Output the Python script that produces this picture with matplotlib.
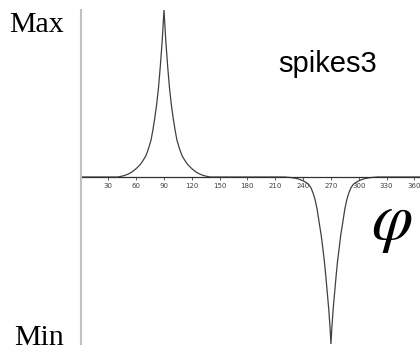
import matplotlib
matplotlib.use('Agg')
import numpy as np
from matplotlib import pyplot as plt

plt.rcParams['mathtext.fontset'] = 'stix'

# angle (deg) and normalised value
phi_up = [0, 40, 44, 48, 52, 56, 60, 64, 67, 70.3, 73, 76, 78, 80, 82, 84, 86, 88, 90,
          92, 94, 96, 98, 100, 102, 104, 107, 109.7, 113, 116, 120, 124, 128, 132, 136, 140]
val_up = [0, 0, 0.004, 0.01, 0.019, 0.032, 0.05, 0.072, 0.095, 0.125, 0.165, 0.22, 0.28,
          0.35, 0.43, 0.53, 0.66, 0.81, 1.0,
          0.81, 0.66, 0.53, 0.43, 0.35, 0.28, 0.22, 0.165, 0.125, 0.095, 0.072, 0.05,
          0.032, 0.019, 0.01, 0.004, 0]
phi_down = [220, 228, 234, 239, 243, 246, 248.5, 251, 252.8, 255, 257.5, 259.5, 261.1, 263,
            264.4, 266, 267.6, 269, 270, 271, 272.4, 274, 275.6, 277, 279, 280.5, 282.5,
            285, 287.2, 289, 291.5, 294, 297, 301, 306, 312, 320, 366]
val_down = [0, -0.004, -0.01, -0.02, -0.032, -0.045, -0.065, -0.1, -0.134, -0.19, -0.28,
            -0.35, -0.42, -0.51, -0.59, -0.69, -0.79, -0.9, -1.0, -0.9, -0.79, -0.69, -0.59,
            -0.51, -0.42, -0.35, -0.28, -0.19, -0.134, -0.1, -0.065, -0.045, -0.032, -0.02,
            -0.01, -0.004, 0, 0]
ticks = [30, 60, 90, 120, 150, 180, 210, 240, 270, 300, 330, 360]

fig = plt.figure(figsize=(4.2, 3.51), dpi=100)
ax = fig.add_axes([80.5 / 420, 7 / 351, 339.5 / 420, 334 / 351])
ax.set_xlim(0, 366)
ax.set_ylim(-1, 1)

ax.plot(phi_up + phi_down, val_up + val_down, color='#404040', lw=0.9)
ax.axhline(0, color='#303030', lw=0.9)

for s in ['top', 'right', 'bottom']:
    ax.spines[s].set_visible(False)
ax.spines['left'].set_color('#c0c0c0')
ax.spines['left'].set_linewidth(1.5)
ax.set_yticks([])

# ticks hang from the zero line
ax.spines['bottom'].set_position(('data', 0))
ax.set_xticks(ticks)
ax.set_xticklabels([str(t) for t in ticks], fontsize=5, color='#404040',
                   family='DejaVu Sans')
ax.tick_params(axis='x', length=2.5, width=0.6, color='#404040', pad=1.5)

fig.text(9 / 420, 1 - 32 / 351, 'Max', family='Liberation Serif', fontsize=21.5,
         ha='left', va='baseline')
fig.text(14 / 420, 1 - 345 / 351, 'Min', family='Liberation Serif', fontsize=21.5,
         ha='left', va='baseline')
fig.text(278 / 420, 1 - 72 / 351, 'spikes3', family='Liberation Sans', fontsize=21,
         ha='left', va='baseline')
fig.text(392 / 420, 1 - 222 / 351, r'$\varphi$', fontsize=48,
         ha='center', va='center')

fig.savefig('out.png', dpi=100)
